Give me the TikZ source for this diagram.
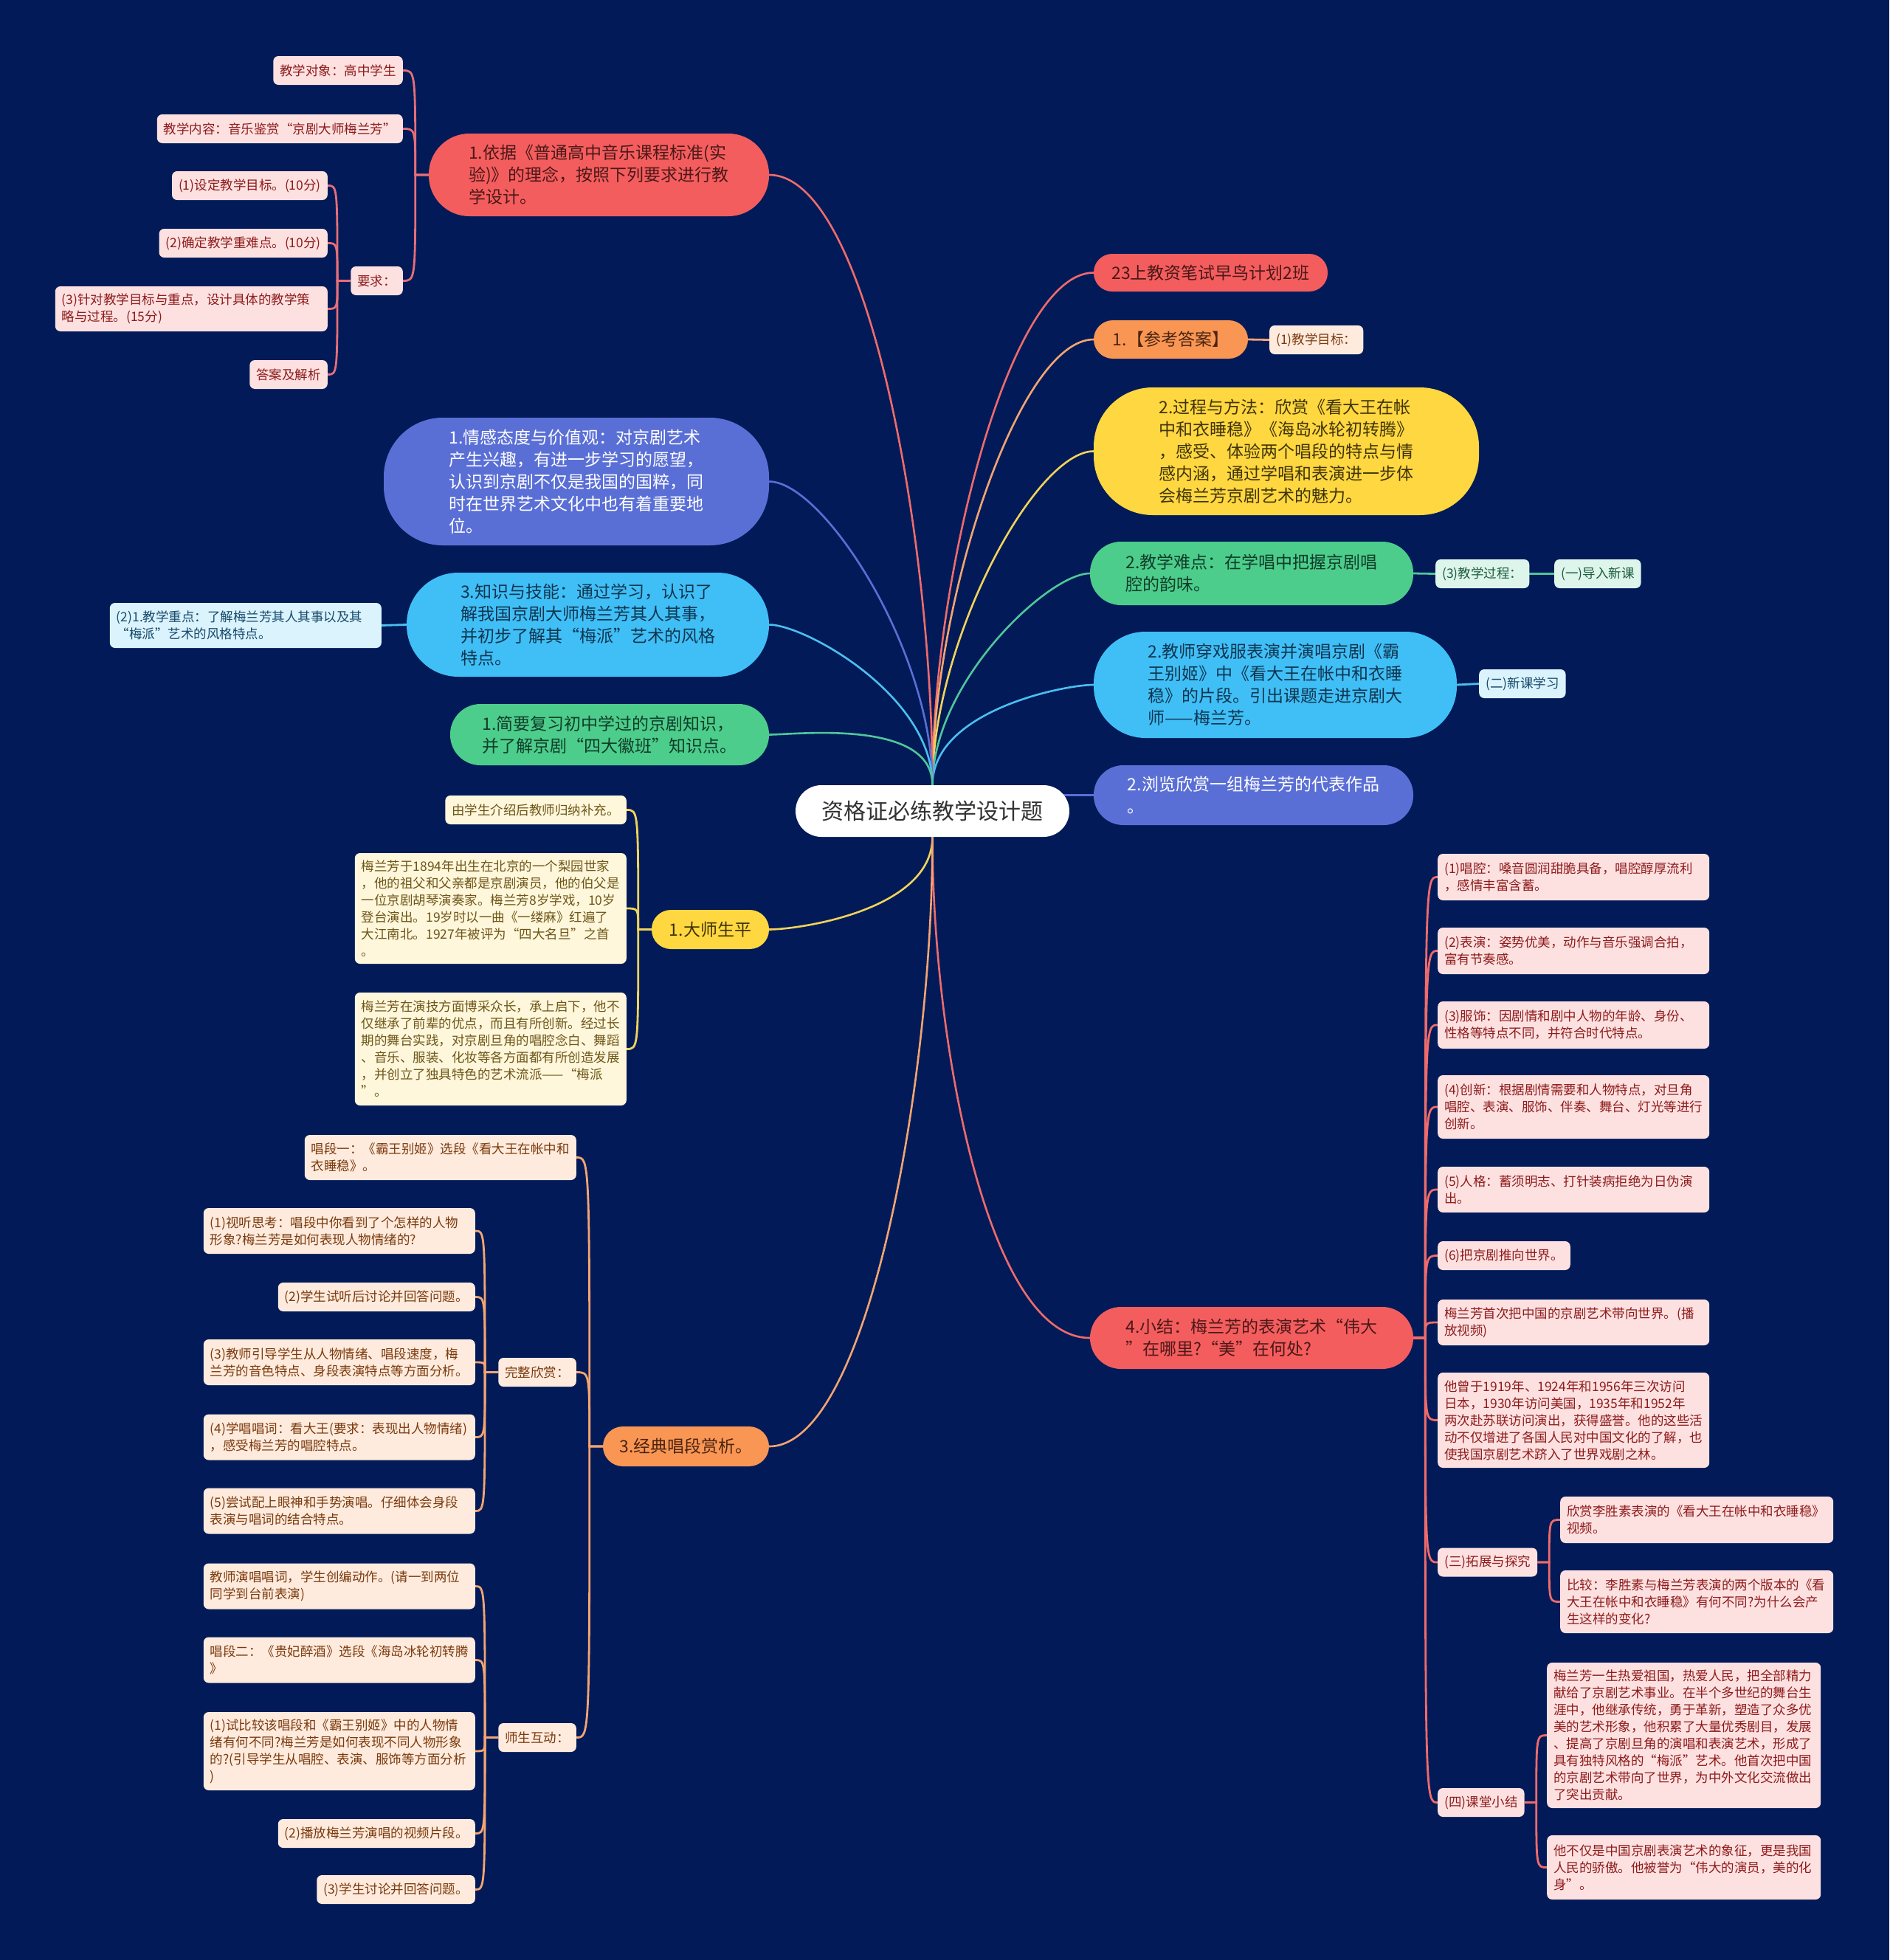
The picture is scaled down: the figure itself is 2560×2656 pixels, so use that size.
\documentclass[tikz,border=0pt]{standalone}
\usepackage{fontspec}
\setmainfont{Noto Sans CJK SC}
\usetikzlibrary{calc}
\pgfdeclarelayer{bg}\pgfdeclarelayer{edges}\pgfsetlayers{bg,edges,main}
\definecolor{bgc}{HTML}{021B58}
\definecolor{coral}{HTML}{F45D5E}
\definecolor{orng}{HTML}{FA9654}
\definecolor{yel}{HTML}{FFD740}
\definecolor{grn}{HTML}{4DCD8B}
\definecolor{lblue}{HTML}{40BFF6}
\definecolor{pblue}{HTML}{5A6FD6}
\definecolor{pinkf}{HTML}{FDE1E1}
\definecolor{pinkt}{HTML}{8E1B1B}
\definecolor{peachf}{HTML}{FEEBDD}
\definecolor{peacht}{HTML}{7B3A0E}
\definecolor{ylf}{HTML}{FFF7DB}
\definecolor{ylt}{HTML}{6E5619}
\definecolor{gnf}{HTML}{DDF5EA}
\definecolor{gnt}{HTML}{1C5B3E}
\definecolor{blf}{HTML}{DBF3FD}
\definecolor{blt}{HTML}{164A6B}
\definecolor{coralt}{HTML}{4B1818}
\definecolor{orngt}{HTML}{4A2410}
\definecolor{yelt}{HTML}{3F3408}
\definecolor{grnt}{HTML}{0F3D2A}
\definecolor{lbluet}{HTML}{0F3550}
\definecolor{rootc}{HTML}{333333}
\definecolor{ecoral}{HTML}{EF6B6B}
\definecolor{epink}{HTML}{E56F78}
\definecolor{eyel}{HTML}{F2D35B}
\definecolor{eorng}{HTML}{F4A572}
\definecolor{egrn}{HTML}{4FC79A}
\definecolor{eblue}{HTML}{4BBFF0}
\definecolor{epblue}{HTML}{5A6FD6}
\newcommand\brR[3]{\draw[#1] let \p1=(#2.east), \p2=(#3.west) in (\p1) -- ({\x1+16pt},\y1) .. controls ({\x1+16pt},\y2) and ({\x1+16pt},\y2) .. (\p2);}
\newcommand\brL[3]{\draw[#1] let \p1=(#2.west), \p2=(#3.east) in (\p1) -- ({\x1-18pt},\y1) .. controls ({\x1-18pt},\y2) and ({\x1-18pt},\y2) .. (\p2);}
\begin{document}
\begin{tikzpicture}[x=1pt,y=1pt,
  mainnode/.style={align=left, inner sep=0pt, font=\fontsize{23}{30}\selectfont},
  leaf/.style={align=left, inner xsep=9pt, inner ysep=0pt, rounded corners=7pt, minimum height=39pt, font=\fontsize{17.5}{23}\selectfont},
  pk/.style={leaf, fill=pinkf, text=pinkt},
  pc/.style={leaf, fill=peachf, text=peacht},
  yl/.style={leaf, fill=ylf, text=ylt},
  gn/.style={leaf, fill=gnf, text=gnt},
  bl/.style={leaf, fill=blf, text=blt},
  mc/.style={line width=2.6pt},
  lc/.style={line width=2.8pt},
  cnode/.style={mainnode, fill=coral, text=coralt},
  onode/.style={mainnode, fill=orng, text=orngt},
  ynode/.style={mainnode, fill=yel, text=yelt},
  gnode/.style={mainnode, fill=grn, text=grnt},
  bnode/.style={mainnode, fill=lblue, text=lbluet},
  pnode/.style={mainnode, fill=pblue, text=white}
]
\begin{pgfonlayer}{bg}
\fill[bgc] (0,0) rectangle (2560,-2656);
\end{pgfonlayer}
\useasboundingbox (0,0) rectangle (2560,-2656);

% root
\node[fill=white, rounded corners=35pt, minimum width=371pt, minimum height=70pt, inner sep=0pt,
  font=\fontsize{30}{36}\selectfont, text=rootc] (root) at (1263.5,-1099) {资格证必练教学设计题};

% right main nodes
\node[cnode, minimum width=317pt, minimum height=51pt, rounded corners=25pt] (R1) at (1640.5,-369.5) {23上教资笔试早鸟计划2班};
\node[onode, minimum width=209pt, minimum height=52pt, rounded corners=26pt] (R2) at (1586.5,-460) {1.【参考答案】};
\node[ynode, minimum width=522pt, minimum height=173pt, rounded corners=80pt] (R3) at (1743,-611.5) {2.过程与方法：欣赏《看大王在帐\\中和衣睡稳》《海岛冰轮初转腾》\\，感受、体验两个唱段的特点与情\\感内涵，通过学唱和表演进一步体\\会梅兰芳京剧艺术的魅力。};
\node[gnode, minimum width=438pt, minimum height=86pt, rounded corners=42pt] (R4) at (1696,-777) {2.教学难点：在学唱中把握京剧唱\\腔的韵味。};
\node[bnode, minimum width=492pt, minimum height=144pt, rounded corners=70pt] (R5) at (1728,-928) {2.教师穿戏服表演并演唱京剧《霸\\王别姬》中《看大王在帐中和衣睡\\稳》的片段。引出课题走进京剧大\\师——梅兰芳。};
\node[pnode, minimum width=433pt, minimum height=81pt, rounded corners=40pt] (R6) at (1698.5,-1077.5) {2.浏览欣赏一组梅兰芳的代表作品\\。};
\node[cnode, minimum width=438pt, minimum height=84pt, rounded corners=42pt] (R7) at (1696,-1813) {4.小结：梅兰芳的表演艺术“伟大\\”在哪里?“美”在何处?};

% left main nodes
\node[cnode, minimum width=461pt, minimum height=112pt, rounded corners=55pt] (L1) at (811.5,-237) {1.依据《普通高中音乐课程标准(实\\验)》的理念，按照下列要求进行教\\学设计。};
\node[pnode, minimum width=522pt, minimum height=173pt, rounded corners=80pt] (L2) at (781,-652.5) {1.情感态度与价值观：对京剧艺术\\产生兴趣，有进一步学习的愿望，\\认识到京剧不仅是我国的国粹，同\\时在世界艺术文化中也有着重要地\\位。};
\node[bnode, minimum width=491pt, minimum height=141pt, rounded corners=70pt] (L3) at (796.5,-846.5) {3.知识与技能：通过学习，认识了\\解我国京剧大师梅兰芳其人其事，\\并初步了解其“梅派”艺术的风格\\特点。};
\node[gnode, minimum width=432pt, minimum height=83pt, rounded corners=41pt] (L4) at (826,-995.5) {1.简要复习初中学过的京剧知识，\\并了解京剧“四大徽班”知识点。};
\node[ynode, minimum width=159pt, minimum height=53pt, rounded corners=26pt] (L5) at (962.5,-1259.5) {1.大师生平};
\node[onode, minimum width=225pt, minimum height=54pt, rounded corners=27pt] (L6) at (929.5,-1960) {3.经典唱段赏析。};

% L1 children
\node[pk, anchor=east] (a1) at (546,-95.5) {教学对象：高中学生};
\node[pk, anchor=east] (a2) at (546,-174.5) {教学内容：音乐鉴赏“京剧大师梅兰芳”};
\node[pk, anchor=east] (a3) at (546,-380.5) {要求：};
\node[pk, anchor=east] (a31) at (444,-251.5) {(1)设定教学目标。(10分)};
\node[pk, anchor=east] (a32) at (444,-329.5) {(2)确定教学重难点。(10分)};
\node[pk, anchor=east, text width=351pt, minimum height=61pt] (a33) at (444,-418.5) {(3)针对教学目标与重点，设计具体的教学策\\略与过程。(15分)};
\node[pk, anchor=east] (a34) at (444,-507.5) {答案及解析};

% L3 child
\node[bl, anchor=east, text width=350pt, minimum height=61pt] (b1) at (517,-847.5) {(2)1.教学重点：了解梅兰芳其人其事以及其\\“梅派”艺术的风格特点。};

% L5 children
\node[yl, anchor=east] (c1) at (849,-1097.5) {由学生介绍后教师归纳补充。};
\node[yl, anchor=east, text width=350pt, minimum height=150pt] (c2) at (849,-1231) {梅兰芳于1894年出生在北京的一个梨园世家\\，他的祖父和父亲都是京剧演员，他的伯父是\\一位京剧胡琴演奏家。梅兰芳8岁学戏，10岁\\登台演出。19岁时以一曲《一缕麻》红遍了\\大江南北。1927年被评为“四大名旦”之首\\。};
\node[yl, anchor=east, text width=350pt, minimum height=153pt] (c3) at (849,-1421.5) {梅兰芳在演技方面博采众长，承上启下，他不\\仅继承了前辈的优点，而且有所创新。经过长\\期的舞台实践，对京剧旦角的唱腔念白、舞蹈\\、音乐、服装、化妆等各方面都有所创造发展\\，并创立了独具特色的艺术流派——“梅派\\”。};

% L6 children
\node[pc, anchor=east, text width=350pt, minimum height=61pt] (d1) at (781,-1568.5) {唱段一：《霸王别姬》选段《看大王在帐中和\\衣睡稳》。};
\node[pc, anchor=east] (d2) at (781,-1859.5) {完整欣赏：};
\node[pc, anchor=east] (d3) at (781,-2354.5) {师生互动：};
\node[pc, anchor=east, text width=350pt, minimum height=62pt] (e1) at (644,-1668) {(1)视听思考：唱段中你看到了个怎样的人物\\形象?梅兰芳是如何表现人物情绪的?};
\node[pc, anchor=east] (e2) at (644,-1757.5) {(2)学生试听后讨论并回答问题。};
\node[pc, anchor=east, text width=350pt, minimum height=62pt] (e3) at (644,-1846) {(3)教师引导学生从人物情绪、唱段速度，梅\\兰芳的音色特点、身段表演特点等方面分析。};
\node[pc, anchor=east, text width=350pt, minimum height=62pt] (e4) at (644,-1947.5) {(4)学唱唱词：看大王(要求：表现出人物情绪)\\，感受梅兰芳的唱腔特点。};
\node[pc, anchor=east, text width=350pt, minimum height=62pt] (e5) at (644,-2047.5) {(5)尝试配上眼神和手势演唱。仔细体会身段\\表演与唱词的结合特点。};
\node[pc, anchor=east, text width=350pt, minimum height=62pt] (f1) at (644,-2149.5) {教师演唱唱词，学生创编动作。(请一到两位\\同学到台前表演)};
\node[pc, anchor=east, text width=350pt, minimum height=62pt] (f2) at (644,-2249.5) {唱段二：《贵妃醉酒》选段《海岛冰轮初转腾\\》};
\node[pc, anchor=east, text width=350pt, minimum height=106pt] (f3) at (644,-2373) {(1)试比较该唱段和《霸王别姬》中的人物情\\绪有何不同?梅兰芳是如何表现不同人物形象\\的?(引导学生从唱腔、表演、服饰等方面分析\\)};
\node[pc, anchor=east] (f4) at (644,-2484.5) {(2)播放梅兰芳演唱的视频片段。};
\node[pc, anchor=east] (f5) at (644,-2560.5) {(3)学生讨论并回答问题。};

% R small children
\node[pc, anchor=west] (j1) at (1720,-460.5) {(1)教学目标：};
\node[gn, anchor=west] (j2) at (1945,-777.5) {(3)教学过程：};
\node[gn, anchor=west] (j3) at (2106,-777.5) {(一)导入新课};
\node[bl, anchor=west] (j4) at (2004,-926.5) {(二)新课学习};

% R7 children
\node[pk, anchor=west, text width=350pt, minimum height=63pt] (g1) at (1948,-1188.5) {(1)唱腔：嗓音圆润甜脆具备，唱腔醇厚流利\\，感情丰富含蓄。};
\node[pk, anchor=west, text width=350pt, minimum height=63pt] (g2) at (1948,-1288.5) {(2)表演：姿势优美，动作与音乐强调合拍，\\富有节奏感。};
\node[pk, anchor=west, text width=350pt, minimum height=64pt] (g3) at (1948,-1389) {(3)服饰：因剧情和剧中人物的年龄、身份、\\性格等特点不同，并符合时代特点。};
\node[pk, anchor=west, text width=350pt, minimum height=86pt] (g4) at (1948,-1500) {(4)创新：根据剧情需要和人物特点，对旦角\\唱腔、表演、服饰、伴奏、舞台、灯光等进行\\创新。};
\node[pk, anchor=west, text width=350pt, minimum height=62pt] (g5) at (1948,-1612) {(5)人格：蓄须明志、打针装病拒绝为日伪演\\出。};
\node[pk, anchor=west] (g6) at (1948,-1701.5) {(6)把京剧推向世界。};
\node[pk, anchor=west, text width=350pt, minimum height=62pt] (g7) at (1948,-1792) {梅兰芳首次把中国的京剧艺术带向世界。(播\\放视频)};
\node[pk, anchor=west, text width=350pt, minimum height=129pt] (g8) at (1948,-1924.5) {他曾于1919年、1924年和1956年三次访问\\日本，1930年访问美国，1935年和1952年\\两次赴苏联访问演出，获得盛誉。他的这些活\\动不仅增进了各国人民对中国文化的了解，也\\使我国京剧艺术跻入了世界戏剧之林。};
\node[pk, anchor=west] (g9) at (1948,-2117) {(三)拓展与探究};
\node[pk, anchor=west] (g10) at (1948,-2442.5) {(四)课堂小结};
\node[pk, anchor=west, text width=352pt, minimum height=63pt] (h1) at (2114,-2059.5) {欣赏李胜素表演的《看大王在帐中和衣睡稳》\\视频。};
\node[pk, anchor=west, text width=352pt, minimum height=85pt] (h2) at (2114,-2170.5) {比较：李胜素与梅兰芳表演的两个版本的《看\\大王在帐中和衣睡稳》有何不同?为什么会产\\生这样的变化?};
\node[pk, anchor=west, text width=353pt, minimum height=197pt] (i1) at (2096,-2351.5) {梅兰芳一生热爱祖国，热爱人民，把全部精力\\献给了京剧艺术事业。在半个多世纪的舞台生\\涯中，他继承传统，勇于革新，塑造了众多优\\美的艺术形象，他积累了大量优秀剧目，发展\\、提高了京剧旦角的演唱和表演艺术，形成了\\具有独特风格的“梅派”艺术。他首次把中国\\的京剧艺术带向了世界，为中外文化交流做出\\了突出贡献。};
\node[pk, anchor=west, text width=353pt, minimum height=87pt] (i2) at (2096,-2530.5) {他不仅是中国京剧表演艺术的象征，更是我国\\人民的骄傲。他被誉为“伟大的演员，美的化\\身”。};

\begin{pgfonlayer}{edges}
% root connectors
\draw[mc, ecoral] (root.north) to[out=90,in=180,in looseness=0.4] (R1.west);
\draw[mc, eorng] (root.north) to[out=90,in=180,in looseness=0.4] (R2.west);
\draw[mc, eyel] (root.north) to[out=90,in=180,in looseness=0.4] (R3.west);
\draw[mc, egrn] (root.north) to[out=90,in=180,in looseness=0.4] (R4.west);
\draw[mc, eblue] (root.north) to[out=90,in=180,in looseness=0.4] (R5.west);
\draw[mc, epblue] (root.center |- R6.west) -- (R6.west);
\draw[mc, ecoral] (root.south) to[out=-90,in=180,in looseness=0.5] (R7.west);
\draw[mc, ecoral] (root.north) to[out=90,in=0,in looseness=0.4] (L1.east);
\draw[mc, epblue] (root.north) to[out=90,in=0,in looseness=0.4] (L2.east);
\draw[mc, eblue] (root.north) to[out=90,in=0,in looseness=0.4] (L3.east);
\draw[mc, egrn] (root.north) to[out=90,in=0,in looseness=0.4] (L4.east);
\draw[mc, eyel] (root.south) to[out=-90,in=0,in looseness=0.4] (L5.east);
\draw[mc, eorng] (root.south) to[out=-90,in=0,in looseness=0.4] (L6.east);
% single connectors
\draw[lc, eorng] (R2.east) -- (j1.west);
\draw[lc, egrn] (R4.east) -- (j2.west);
\draw[lc, egrn] (j2.east) -- (j3.west);
\draw[lc, eblue] (R5.east) -- (j4.west);
\draw[lc, eblue] (L3.west) -- (b1.east);
% L1 brackets
\brL{lc, epink}{L1}{a1}
\brL{lc, epink}{L1}{a2}
\brL{lc, epink}{L1}{a3}
\brL{lc, epink}{a3}{a31}
\brL{lc, epink}{a3}{a32}
\brL{lc, epink}{a3}{a33}
\brL{lc, epink}{a3}{a34}
% L5 brackets
\brL{lc, eyel}{L5}{c1}
\brL{lc, eyel}{L5}{c2}
\brL{lc, eyel}{L5}{c3}
% L6 brackets
\brL{lc, eorng}{L6}{d1}
\brL{lc, eorng}{L6}{d2}
\brL{lc, eorng}{L6}{d3}
\brL{lc, eorng}{d2}{e1}
\brL{lc, eorng}{d2}{e2}
\brL{lc, eorng}{d2}{e3}
\brL{lc, eorng}{d2}{e4}
\brL{lc, eorng}{d2}{e5}
\brL{lc, eorng}{d3}{f1}
\brL{lc, eorng}{d3}{f2}
\brL{lc, eorng}{d3}{f3}
\brL{lc, eorng}{d3}{f4}
\brL{lc, eorng}{d3}{f5}
% R7 brackets
\brR{lc, ecoral}{R7}{g1}
\brR{lc, ecoral}{R7}{g2}
\brR{lc, ecoral}{R7}{g3}
\brR{lc, ecoral}{R7}{g4}
\brR{lc, ecoral}{R7}{g5}
\brR{lc, ecoral}{R7}{g6}
\brR{lc, ecoral}{R7}{g7}
\brR{lc, ecoral}{R7}{g8}
\brR{lc, ecoral}{R7}{g9}
\brR{lc, ecoral}{R7}{g10}
\brR{lc, ecoral}{g9}{h1}
\brR{lc, ecoral}{g9}{h2}
\brR{lc, ecoral}{g10}{i1}
\brR{lc, ecoral}{g10}{i2}
\end{pgfonlayer}
\end{tikzpicture}
\end{document}
